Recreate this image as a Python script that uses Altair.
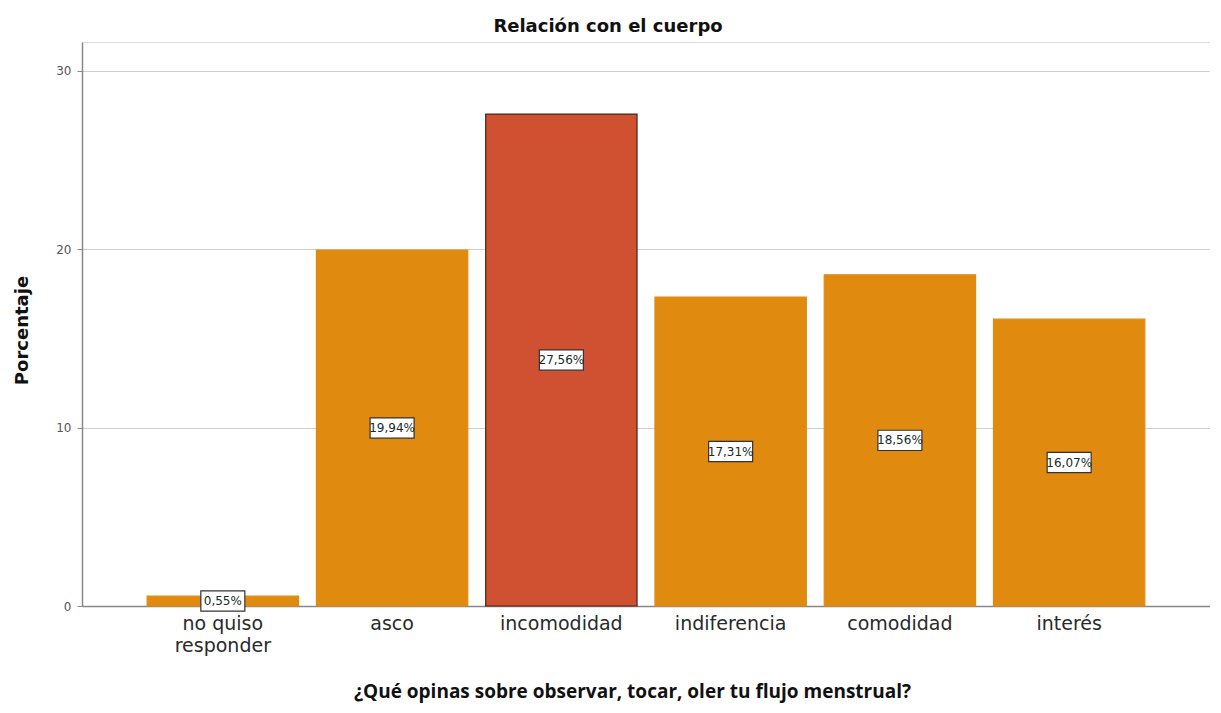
import altair as alt
import pandas as pd

categorias = ["no quiso responder", "asco", "incomodidad", "indiferencia", "comodidad", "interés"]
porcentajes = [0.55, 19.94, 27.56, 17.31, 18.56, 16.07]
grupo = ["normal", "normal", "destacado", "normal", "normal", "normal"]
y_ticks = [0, 10, 20, 30]

df = pd.DataFrame({
    "cat": categorias,
    "pct": porcentajes,
    "grupo": grupo,
})
df["mid"] = df["pct"] / 2
df["etiqueta"] = df["pct"].map(lambda v: f"{v:.2f}".replace(".", ",") + "%")

W, H = 1128, 564

x_enc = alt.X(
    "cat:N",
    sort=categorias,
    scale=alt.Scale(paddingInner=0.106, paddingOuter=0.385),
    axis=alt.Axis(
        title="¿Qué opinas sobre observar, tocar, oler tu flujo menstrual?",
        titleFont="Open Sans", titleFontSize=19, titleFontWeight="bold", titleColor="#111",
        titleX=550, titleY=85, titleAnchor="middle", titleBaseline="middle",
        labelAngle=0, labelFont="DejaVu Sans", labelFontSize=19, labelColor="#2a2a2a",
        labelExpr="datum.value == 'no quiso responder' ? ['no quiso', 'responder'] : datum.value",
        labelLineHeight=22, labelPadding=8,
        ticks=False, domainColor="#888", domainWidth=1.5,
    ),
)

bars = alt.Chart(df).mark_bar(strokeWidth=1.2).encode(
    x=x_enc,
    y=alt.Y(
        "pct:Q",
        scale=alt.Scale(domain=[0, 31.6], nice=False),
        axis=alt.Axis(
            title="Porcentaje", titleFont="DejaVu Sans", titleFontSize=18, titleFontWeight="bold",
            titleColor="#111", titleX=-60, titleY=288, titleAngle=-90, titleBaseline="middle",
            titleAnchor="middle",
            values=y_ticks, labelFont="DejaVu Sans", labelFontSize=12, labelColor="#555",
            labelPadding=6, ticks=True, tickSize=5, tickColor="#888",
            grid=True, gridColor="#cfcfcf", gridWidth=1,
            domainColor="#888", domainWidth=1.5,
        ),
    ),
    color=alt.Color("grupo:N", scale=alt.Scale(domain=["normal", "destacado"], range=["#E18A10", "#D05132"]), legend=None),
    stroke=alt.Stroke("grupo:N", scale=alt.Scale(domain=["normal", "destacado"], range=["#E18A10", "#4a2418"]), legend=None),
)

boxes = alt.Chart(df).mark_point(
    shape="M-1,-0.46L1,-0.46L1,0.46L-1,0.46Z",
    filled=True, fill="white", stroke="#333", strokeWidth=1.2, opacity=1,
).encode(
    x=alt.X("cat:N", sort=categorias),
    y=alt.Y("mid:Q"),
    size=alt.value(1936),
)

labels = alt.Chart(df).mark_text(
    font="DejaVu Sans", fontSize=12, color="#1a2a2a", baseline="middle", align="center",
).encode(
    x=alt.X("cat:N", sort=categorias),
    y=alt.Y("mid:Q"),
    text="etiqueta:N",
)

chart = alt.layer(bars, boxes, labels).properties(
    width=W, height=H,
    title=alt.TitleParams(
        "Relación con el cuerpo", font="DejaVu Sans", fontSize=18, fontWeight="bold",
        color="#111", anchor="middle", dx=-38, offset=6,
    ),
    autosize=alt.AutoSizeParams(type="none"),
    padding={"left": 74, "top": 34, "right": 0, "bottom": 98},
).configure_view(stroke=None).configure(background="white")

chart.save("out.html", embed_options={"renderer": "svg", "actions": False})
